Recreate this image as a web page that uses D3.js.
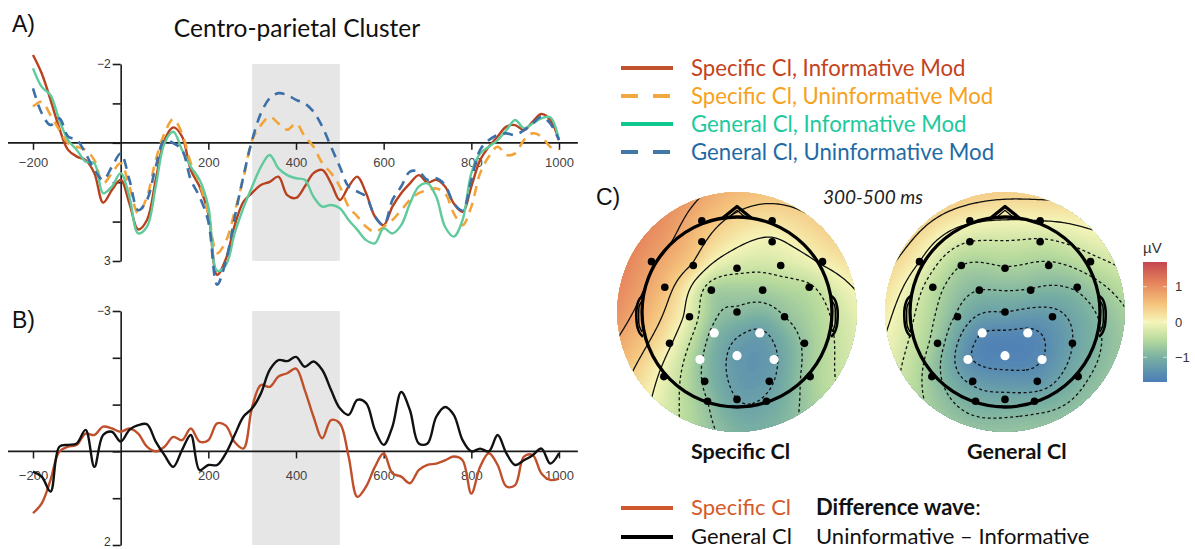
<!DOCTYPE html>
<html><head><meta charset="utf-8">
<script src="https://cdn.jsdelivr.net/npm/d3@7/dist/d3.min.js"></script>
<style>
html,body{margin:0;padding:0;background:#fff;}
svg{display:block;}
</style></head>
<body>
<svg id="fig" width="1195" height="549"></svg>
<script>
// ================= DATA =================
const times = [-200,-180,-160,-140,-120,-100,-80,-60,-40,-20,0,
  20,40,60,80,100,120,140,160,180,200,
  220,240,260,280,300,320,340,360,380,400,
  420,440,460,480,500,520,540,560,580,600,
  620,640,660,680,700,720,740,760,780,800,
  820,840,860,880,900,920,940,960,980,1000];

// Panel A (µV, negative up)
const specificInformative = [-2.23,-1.76,-1.09,-0.37,0.18,0.35,0.44,0.77,1.52,1.20,0.94,
  1.54,2.20,1.96,0.94,-0.07,-0.39,-0.16,0.69,1.11,1.80,
  3.35,2.95,2.10,1.50,1.27,1.07,0.99,0.86,1.33,1.40,
  1.11,0.77,0.69,1.03,1.45,1.11,0.86,1.28,1.87,2.09,
  1.62,1.28,1.03,0.82,1.01,0.94,1.11,1.54,1.75,1.11,
  0.44,0.10,-0.16,-0.41,-0.45,-0.32,-0.54,-0.73,-0.58,-0.07];
const specificUninformative = [-0.92,-1.04,-0.70,-0.33,0.01,0.10,0.18,0.44,1.03,0.77,0.52,
  1.11,1.79,1.37,0.44,-0.24,-0.60,-0.24,0.52,1.03,1.79,
  2.80,2.50,1.75,0.90,-0.07,-0.45,-0.66,-0.49,-0.33,-0.49,
  -0.16,0.10,0.52,0.77,1.11,1.62,1.87,2.13,2.26,2.13,
  1.96,1.71,1.45,1.28,1.20,1.16,1.28,1.79,2.09,1.62,
  0.77,0.35,0.10,0.31,0.27,-0.07,-0.24,-0.16,0.10,0.18];
const generalInformative = [-1.89,-1.42,-1.21,-0.58,-0.07,0.18,0.48,0.52,1.28,1.11,0.77,
  1.37,2.30,2.13,1.11,0.01,-0.28,0.18,0.61,0.94,1.62,
  3.25,3.10,2.30,1.65,1.11,0.61,0.31,0.65,0.82,0.90,
  0.94,1.37,1.62,1.58,1.66,1.96,2.21,2.47,2.55,2.17,
  2.30,2.09,1.54,1.11,1.03,1.37,2.13,2.38,1.96,0.77,
  0.27,0.10,-0.07,-0.32,-0.58,-0.37,-0.49,-0.62,-0.65,-0.07];
const generalUninformative = [-1.38,-0.75,-0.45,-0.62,-0.16,-0.07,0.27,0.69,0.94,0.61,0.27,
  0.94,1.71,1.45,0.61,-0.07,0.01,0.18,0.94,1.37,2.00,
  3.60,3.00,1.90,0.85,-0.07,-0.75,-1.13,-1.26,-1.21,-1.09,
  -1.00,-0.79,-0.41,0.10,0.61,1.11,1.24,1.37,1.87,2.09,
  1.45,1.11,0.73,0.73,0.94,0.90,1.07,1.54,1.71,0.94,
  0.18,-0.07,-0.20,-0.24,-0.20,-0.32,-0.49,-0.66,-0.49,-0.07];

// Panel B difference waves (Uninformative - Informative)
const specificDifference = [1.32,1.11,0.61,0.00,-0.10,-0.14,-0.38,-0.35,-0.53,-0.49,-0.42,
  -0.49,-0.38,-0.10,0.00,-0.10,-0.31,-0.24,-0.49,-0.21,-0.24,
  -0.60,-0.55,-0.20,-0.06,-0.95,-1.42,-1.38,-1.60,-1.67,-1.77,
  -1.31,-0.74,-0.28,-0.67,-0.60,0.11,0.97,0.75,0.33,0.04,
  0.47,0.54,0.68,0.40,0.29,0.26,0.19,0.11,0.19,0.90,
  0.33,0.04,0.29,0.75,0.72,0.11,0.08,0.47,0.61,0.58];
const generalDifference = [0.43,0.54,0.86,-0.10,-0.14,-0.17,-0.46,0.33,-0.35,-0.42,-0.21,
  -0.46,-0.56,-0.58,-0.21,0.08,0.33,-0.03,-0.35,0.40,0.29,
  0.29,0.04,-0.35,-0.74,-0.92,-1.24,-1.74,-1.95,-1.93,-2.02,
  -1.81,-1.92,-1.74,-1.31,-0.92,-0.78,-1.10,-1.03,-0.46,-0.14,
  -0.53,-1.27,-0.88,-0.17,-0.17,-0.74,-0.95,-0.78,-0.24,0.00,
  -0.06,0.00,-0.35,0.04,0.29,0.19,0.08,-0.06,0.26,0.04];

const xTickValues = [-200,200,400,600,800,1000];
const yTicksA = [-2,-1,0,1,2,3];
const yTicksB = [-3,-2,-1,0,1,2];
const analysisWindow = [300,500];

const legendLabels = ["Specific Cl, Informative Mod","Specific Cl, Uninformative Mod","General Cl, Informative Mod","General Cl, Uninformative Mod"];
const diffLegendLabels = ["Specific Cl","General Cl"];

// Topography: electrode layout (head-radius units, y downward) and mean 300-500 ms values (µV)
const electrodes = ["Fp1","Fp2","AF3","AF4","F7","F3","Fz","F4","F8","FC5","FC1","FC2","FC6","C3","Cz","C4","CP5","CP1","CP2","CP6","P7","P3","Pz","P4","P8","PO3","PO4","O1","Oz","O2"];
const elecX = [-0.37,0.37,-0.37,0.37,-0.90,-0.46,0,0.46,0.90,-0.76,-0.27,0.27,0.76,-0.50,0,0.50,-0.71,-0.24,0.24,0.71,-0.77,-0.39,0,0.39,0.77,-0.34,0.34,-0.31,0,0.31];
const elecY = [-0.96,-0.96,-0.74,-0.74,-0.53,-0.49,-0.46,-0.49,-0.53,-0.26,-0.23,-0.23,-0.26,0.05,0,0.05,0.33,0.22,0.22,0.33,0.68,0.50,0.46,0.50,0.68,0.73,0.73,0.94,0.92,0.94];
const specificTopo = [0.60,0.20,0.45,-0.05,0.85,0.35,-0.30,-0.25,0.05,0.55,-0.60,-0.65,-0.45,-0.15,-0.85,-0.80,0.05,-0.90,-1.25,-0.75,-0.10,-0.75,-1.30,-1.25,-0.65,-0.85,-1.25,-0.80,-1.20,-1.15];
const generalTopo = [0.05,0.00,-0.30,-0.35,0.00,-0.60,-0.62,-0.65,-0.40,-0.45,-0.90,-0.92,-0.85,-0.95,-1.20,-1.30,-0.75,-1.50,-1.55,-1.20,-0.75,-1.45,-1.60,-1.50,-1.00,-1.25,-1.35,-1.05,-1.10,-1.05];
const clusterElectrodes = ["CP1","CP2","P3","Pz","P4"];
const specificLevels = [-1.2,-0.8,-0.4,0,0.4,0.8,1.2,1.6];
const generalLevels = [-1.5,-1.2,-0.9,-0.6,-0.3,0,0.3,0.6];
const colorbarTicks = [1,0,-1];
const colorbarDomain = [-1.7,1.7];

// ================= STYLE =================
const uiFont = "Lato, 'Open Sans', sans-serif";
const axFont = "'Liberation Sans', Arial, sans-serif";
const topoStops = [-1.7,-1.0,-0.5,0,0.5,1.1,1.7];
const topoColors = ["#4b7db8","#79b0a2","#b8db9d","#f5f5b8","#f5c47d","#e6845c","#c4474f"];
const topoColor = d3.scaleLinear().domain(topoStops).range(topoColors).clamp(true);

const svg = d3.select('#fig');

// ================= ERP PANELS =================
const x = d3.scaleLinear().domain([-200,1000]).range([33,559]);
const yA = d3.scaleLinear().domain([-2,3]).range([64,261]);
const yB = d3.scaleLinear().domain([-3,2]).range([311,545]);
const axisSpan = [-257,1043];

function erpPanel(y, yTicks, padX, series) {
  const g = svg.append('g');
  const d0 = y.domain();
  g.append('rect')
    .attr('x', x(analysisWindow[0])).attr('width', x(analysisWindow[1]) - x(analysisWindow[0]))
    .attr('y', y(d0[0])).attr('height', y(d0[1]) - y(d0[0]))
    .attr('fill', '#e6e6e6');
  const xa = g.append('g').attr('transform', `translate(0,${y(0)})`)
    .call(d3.axisBottom(x).tickValues(xTickValues).tickSize(7).tickPadding(padX).tickFormat(d3.format('d')));
  xa.select('.domain').remove();
  xa.selectAll('line').attr('stroke', '#1a1a1a').attr('stroke-width', 1.5);
  xa.selectAll('text').attr('font-family', axFont).attr('font-size', 13).attr('fill', '#444');
  g.append('line').attr('x1', x(axisSpan[0])).attr('x2', x(axisSpan[1]))
    .attr('y1', y(0)).attr('y2', y(0)).attr('stroke', '#1a1a1a').attr('stroke-width', 1.8);
  const labelled = [d0[0], d0[1]];
  const ya = g.append('g').attr('transform', `translate(${x(0)},0)`)
    .call(d3.axisLeft(y).tickValues(yTicks).tickSize(8).tickSizeOuter(0).tickPadding(2)
      .tickFormat(d => labelled.includes(d) ? d3.format('d')(d) : ''));
  ya.selectAll('line,path').attr('stroke', '#1a1a1a').attr('stroke-width', 1.6);
  ya.selectAll('text').attr('font-family', axFont).attr('font-size', 12).attr('fill', '#333')
    .attr('dy', d => (d === d0[1] && y(d) > 540) ? '0.05em' : '0.32em');
  const line = d3.line().x((d, i) => x(times[i])).y(d => y(d)).curve(d3.curveCatmullRom.alpha(0.5));
  series.forEach(s => {
    g.append('path').datum(s.values).attr('d', line)
      .attr('fill', 'none').attr('stroke', s.color).attr('stroke-width', s.width)
      .attr('stroke-dasharray', s.dash || null).attr('stroke-linejoin', 'round');
  });
}

erpPanel(yA, yTicksA, 8, [
  {values: specificInformative, color: '#b8421f', width: 2.4},
  {values: specificUninformative, color: '#f2a43a', width: 2.6, dash: '10,7'},
  {values: generalInformative, color: '#5fca9c', width: 2.4},
  {values: generalUninformative, color: '#3b70a8', width: 2.6, dash: '10,7'}
]);
erpPanel(yB, yTicksB, 12, [
  {values: specificDifference, color: '#c0502c', width: 2.4},
  {values: generalDifference, color: '#111111', width: 2.4}
]);

// Panel letters and title
svg.append('text').attr('x', 12).attr('y', 32).text('A)').attr('font-family', axFont).attr('font-size', 23).attr('fill', '#111');
svg.append('text').attr('x', 12).attr('y', 328).text('B)').attr('font-family', axFont).attr('font-size', 23).attr('fill', '#111');
svg.append('text').attr('x', 596).attr('y', 205).text('C)').attr('font-family', axFont).attr('font-size', 23).attr('fill', '#111');
svg.append('text').attr('x', 297).attr('y', 37).attr('text-anchor', 'middle').text('Centro-parietal Cluster')
  .attr('font-family', uiFont).attr('font-size', 24.5).attr('fill', '#111');

// ================= LEGEND (A) =================
const legendLineColors = ['#c0532d', '#f0a840', '#0fc88e', '#3f79aa'];
const legendTextColors = ['#c4431c', '#f7a11c', '#1dc99d', '#1f6aa5'];
const legendDash = [null, '17,15', null, '17,15'];
legendLabels.forEach((lab, i) => {
  const by = 76 + i * 28;
  svg.append('line').attr('x1', 621).attr('x2', 673).attr('y1', by - 8).attr('y2', by - 8)
    .attr('stroke', legendLineColors[i]).attr('stroke-width', 4).attr('stroke-dasharray', legendDash[i]);
  svg.append('text').attr('x', 691).attr('y', by).text(lab)
    .attr('font-family', uiFont).attr('font-size', 22.2).attr('fill', legendTextColors[i]);
});

// ================= TOPOGRAPHIES =================
function gfun(r) { return r < 1e-9 ? 0 : r * r * (Math.log(r) - 1); }
function solve(A, b) {
  const n = b.length;
  const M = A.map((row, i) => [...row, b[i]]);
  for (let c = 0; c < n; c++) {
    let p = c;
    for (let r = c + 1; r < n; r++) if (Math.abs(M[r][c]) > Math.abs(M[p][c])) p = r;
    [M[c], M[p]] = [M[p], M[c]];
    for (let r = 0; r < n; r++) {
      if (r === c) continue;
      const f = M[r][c] / M[c][c];
      for (let k = c; k <= n; k++) M[r][k] -= f * M[c][k];
    }
  }
  return M.map((row, i) => row[n] / row[i]);
}
// thin-plate / biharmonic spline with linear trend
function spline(xs, ys, vs) {
  const n = xs.length, m = n + 3;
  const A = [];
  for (let i = 0; i < m; i++) A.push(new Array(m).fill(0));
  for (let i = 0; i < n; i++) {
    for (let j = 0; j < n; j++) A[i][j] = gfun(Math.hypot(xs[i] - xs[j], ys[i] - ys[j]));
    A[i][n] = 1; A[i][n + 1] = xs[i]; A[i][n + 2] = ys[i];
    A[n][i] = 1; A[n + 1][i] = xs[i]; A[n + 2][i] = ys[i];
  }
  const b = [...vs, 0, 0, 0];
  const w = solve(A, b);
  return (px, py) => {
    let s = w[n] + w[n + 1] * px + w[n + 2] * py;
    for (let j = 0; j < n; j++) s += w[j] * gfun(Math.hypot(px - xs[j], py - ys[j]));
    return s;
  };
}

const defs = svg.append('defs');
function topo(id, cx, cy, vals, levels) {
  const R = 95, DR = 1.26, ext = 1.32, N = 120;
  defs.append('clipPath').attr('id', 'clip' + id).append('circle').attr('cx', cx).attr('cy', cy).attr('r', R * DR);
  const f = spline(elecX, elecY, vals);
  const grid = new Float64Array(N * N);
  for (let j = 0; j < N; j++) for (let i = 0; i < N; i++) {
    grid[j * N + i] = f(-ext + 2 * ext * i / (N - 1), -ext + 2 * ext * j / (N - 1));
  }
  const k = R * 2 * ext / (N - 1);
  const proj = d3.geoIdentity().scale(k).translate([cx - R * ext - 0.5 * k, cy - R * ext - 0.5 * k]);
  const path = d3.geoPath(proj);
  const g = svg.append('g').attr('clip-path', `url(#clip${id})`);
  const step = 0.035;
  const vmin = d3.min(grid), vmax = d3.max(grid);
  const ths = d3.range(Math.floor(vmin / step) * step, vmax, step);
  const bands = d3.contours().size([N, N]).thresholds(ths)(grid);
  g.selectAll('path.band').data(bands).join('path').attr('class', 'band')
    .attr('d', path).attr('fill', d => topoColor(d.value + step / 2));
  const iso = d3.contours().size([N, N]).thresholds(levels)(grid).filter(d => d.coordinates.length);
  g.selectAll('path.iso').data(iso).join('path').attr('class', 'iso')
    .attr('d', path).attr('fill', 'none').attr('stroke', '#111').attr('stroke-width', 1.3)
    .attr('stroke-dasharray', d => d.value < 0 ? '3,2.6' : null);
  // head outline
  const h = svg.append('g').attr('transform', `translate(${cx},${cy}) scale(${R})`);
  const sw = 3.3 / R;
  h.append('circle').attr('r', 1).attr('fill', 'none').attr('stroke', '#000').attr('stroke-width', sw);
  const hl = d3.line();
  h.append('path').attr('d', hl([[-0.15, -0.99], [0, -1.11], [0.15, -0.99]]))
    .attr('fill', 'none').attr('stroke', '#000').attr('stroke-width', sw).attr('stroke-linejoin', 'round');
  h.append('path').attr('d', hl([[-0.09, -0.995], [0, -1.07], [0.09, -0.995]]))
    .attr('fill', 'none').attr('stroke', '#000').attr('stroke-width', 1.2 / R);
  const earCurve = d3.line().curve(d3.curveCatmullRom);
  [-1, 1].forEach(sgn => {
    h.append('path').attr('d', earCurve([[0.99, -0.17], [1.03, -0.13], [1.055, -0.05], [1.06, 0.04], [1.05, 0.15], [1.025, 0.22], [0.99, 0.26]].map(p => [sgn * p[0], p[1]])))
      .attr('fill', 'none').attr('stroke', '#000').attr('stroke-width', 2.6 / R);
    h.append('path').attr('d', earCurve([[1.0, -0.12], [1.03, -0.06], [1.035, 0.04], [1.03, 0.14], [1.0, 0.21]].map(p => [sgn * p[0], p[1]])))
      .attr('fill', 'none').attr('stroke', '#000').attr('stroke-width', 1.5 / R);
  });
  // electrodes
  const pts = electrodes.map((e, i) => ({e, x: elecX[i], y: elecY[i]}));
  svg.append('g').selectAll('circle').data(pts).join('circle')
    .attr('cx', d => cx + d.x * R).attr('cy', d => cy + d.y * R)
    .attr('r', d => clusterElectrodes.includes(d.e) ? 4.6 : 3.8)
    .attr('fill', d => clusterElectrodes.includes(d.e) ? '#fff' : '#000');
}
topo('L', 737, 312, specificTopo, specificLevels);
topo('R', 1005, 312, generalTopo, generalLevels);

svg.append('text').attr('x', 823).attr('y', 204).text('300-500 ms')
  .attr('font-family', uiFont).attr('font-style', 'italic').attr('font-size', 19).attr('fill', '#222');
svg.append('text').attr('x', 691).attr('y', 459).text('Specific Cl')
  .attr('font-family', uiFont).attr('font-weight', 'bold').attr('font-size', 21.5).attr('fill', '#111');
svg.append('text').attr('x', 967).attr('y', 459).text('General Cl')
  .attr('font-family', uiFont).attr('font-weight', 'bold').attr('font-size', 21.5).attr('fill', '#111');

// colorbar
const cb = d3.scaleLinear().domain(colorbarDomain).range([382, 262]);
const grad = defs.append('linearGradient').attr('id', 'cbg').attr('x1', 0).attr('x2', 0).attr('y1', 1).attr('y2', 0);
d3.range(0, 1.0001, 0.05).forEach(t => {
  const v = colorbarDomain[0] + t * (colorbarDomain[1] - colorbarDomain[0]);
  grad.append('stop').attr('offset', t).attr('stop-color', topoColor(v));
});
svg.append('rect').attr('x', 1143).attr('y', cb(colorbarDomain[1])).attr('width', 24)
  .attr('height', cb(colorbarDomain[0]) - cb(colorbarDomain[1])).attr('fill', 'url(#cbg)');
colorbarTicks.forEach(v => {
  [1143, 1163].forEach(xx => svg.append('line').attr('x1', xx).attr('x2', xx + 4).attr('y1', cb(v)).attr('y2', cb(v))
    .attr('stroke', 'rgba(255,255,255,0.6)').attr('stroke-width', 1));
  svg.append('text').attr('x', 1175).attr('y', cb(v)).attr('dy', '0.35em').text(d3.format('d')(v))
    .attr('font-family', axFont).attr('font-size', 13).attr('fill', '#333');
});
svg.append('text').attr('x', 1143).attr('y', 253).text('µV').attr('font-family', axFont).attr('font-size', 15).attr('fill', '#333');

// ================= LEGEND (B) =================
const diffColors = ['#d0582e', '#000'];
const diffTextColors = ['#d45a2a', '#111'];
diffLegendLabels.forEach((lab, i) => {
  const by = 515 + i * 29;
  svg.append('line').attr('x1', 621).attr('x2', 673).attr('y1', by - 7).attr('y2', by - 7)
    .attr('stroke', diffColors[i]).attr('stroke-width', 4);
  svg.append('text').attr('x', 691).attr('y', by).text(lab)
    .attr('font-family', uiFont).attr('font-size', 22).attr('fill', diffTextColors[i]);
});
const dw = svg.append('text').attr('x', 816).attr('y', 515).attr('font-family', uiFont).attr('font-size', 22).attr('fill', '#111');
dw.append('tspan').attr('font-weight', 'bold').text('Difference wave');
dw.append('tspan').text(':');
svg.append('text').attr('x', 816).attr('y', 544).text('Uninformative \u2013 Informative')
  .attr('font-family', uiFont).attr('font-size', 22).attr('fill', '#111');
</script>
</body></html>
